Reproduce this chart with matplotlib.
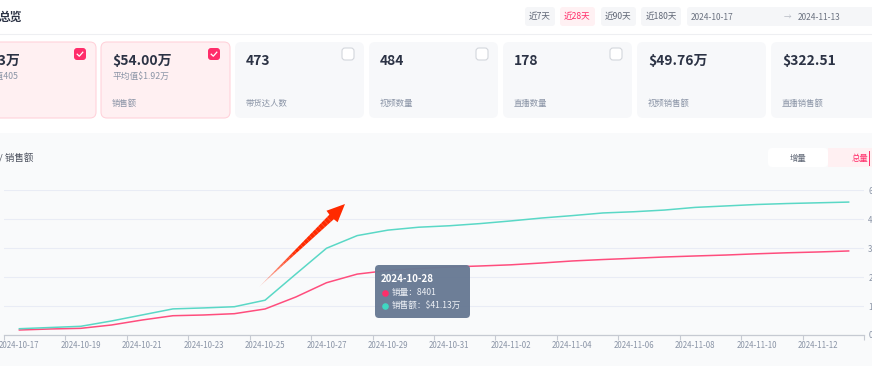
import matplotlib
matplotlib.use("Agg")
import matplotlib.pyplot as plt
import numpy as np
from matplotlib.patches import FancyBboxPatch, Polygon, Rectangle

plt.rcParams['font.family'] = ['Noto Sans CJK SC', 'DejaVu Sans']

# data
dates = ['2024-10-17', '2024-10-18', '2024-10-19', '2024-10-20', '2024-10-21', '2024-10-22',
         '2024-10-23', '2024-10-24', '2024-10-25', '2024-10-26', '2024-10-27', '2024-10-28',
         '2024-10-29', '2024-10-30', '2024-10-31', '2024-11-01', '2024-11-02', '2024-11-03',
         '2024-11-04', '2024-11-05', '2024-11-06', '2024-11-07', '2024-11-08', '2024-11-09',
         '2024-11-10', '2024-11-11', '2024-11-12', '2024-11-13']
sales_qty = [690, 830, 920, 1380, 2070, 2660, 2760, 2940, 3590, 5240, 7210, 8401,
             8900, 9170, 9380, 9520, 9680, 9930, 10210, 10410, 10580, 10760, 10900, 11030,
             11200, 11340, 11450, 11590]
sales_amt = [2.6, 3.1, 3.6, 5.8, 8.3, 10.8, 11.2, 11.7, 14.4, 25.2, 35.9, 41.13,
             43.4, 44.6, 45.2, 46.1, 47.2, 48.4, 49.4, 50.5, 51.0, 51.7, 52.8, 53.4,
             54.0, 54.4, 54.7, 55.0]
amt_ticks = [0, 12, 24, 36, 48, 60]
amt_tick_labels = ['0', '12万', '24万', '36万', '48万', '60万']

card_values = ['1.13万', '$54.00万', '473', '484', '178', '$49.76万', '$322.51']
card_subs = ['平均值405', '平均值$1.92万', '', '', '', '', '']
card_labels = ['销量', '销售额', '带货达人数', '视频数量', '直播数量', '视频销售额', '直播销售额']
card_checked = [True, True, False, False, False, None, None]
range_buttons = ['近7天', '近28天', '近90天', '近180天']

W, H = 872, 374
fig = plt.figure(figsize=(W / 100, H / 100), dpi=100)
fig.patch.set_facecolor('white')

bg = fig.add_axes([0, 0, 1, 1], zorder=0)
bg.set_xlim(0, W)
bg.set_ylim(H, 0)
bg.axis('off')

grey_txt = '#8a94a6'
dark_txt = '#2c3345'
pink = '#ff2d6a'

# header
bg.text(-1.5, 17.5, '总览', fontsize=8.5, fontweight='bold', color=dark_txt, va='center', ha='left')
bg.plot([0, W], [34, 34], color='#eeeff2', lw=0.8)

btn_x = [525, 560, 601, 641]
btn_w = [30, 35, 35, 40]
for i, lab in enumerate(range_buttons):
    fc = '#fff1f3' if i == 1 else '#f5f6f8'
    bg.add_patch(FancyBboxPatch((btn_x[i], 7), btn_w[i], 19, boxstyle='round,pad=0,rounding_size=3',
                                fc=fc, ec='none'))
    bg.text(btn_x[i] + btn_w[i] / 2, 17, lab, fontsize=6.2, color=pink if i == 1 else '#5f6675',
            ha='center', va='center')
bg.add_patch(FancyBboxPatch((687, 7), 200, 19, boxstyle='round,pad=0,rounding_size=3',
                            fc='#f5f6f8', ec='none'))
bg.text(691, 17, dates[0], fontsize=6, color='#6b7280', va='center')
bg.text(787, 17, '→', fontsize=5.5, color='#b8bcc5', va='center', ha='center')
bg.text(798, 17, dates[-1], fontsize=6, color='#6b7280', va='center')

# cards (the first one is partly off the left edge, as in the screenshot)
for i in range(len(card_values)):
    x0 = -33 + 134 * i
    sel = card_checked[i] is True
    bg.add_patch(FancyBboxPatch((x0, 42), 129, 76, boxstyle='round,pad=0,rounding_size=6',
                                fc='#fff0f2' if sel else '#f7f8fa',
                                ec='#ffd3db' if sel else 'none', lw=0.8))
    bg.text(x0 + 11, 61, card_values[i], fontsize=10, fontweight='bold', color=dark_txt, va='center')
    if card_subs[i]:
        bg.text(x0 + 11, 76, card_subs[i], fontsize=6.3, color=grey_txt, va='center')
    if x0 > 0:
        bg.text(x0 + 11, 103, card_labels[i], fontsize=6, color=grey_txt, va='center')
    if card_checked[i] is not None:
        cx, cy = x0 + 107, 48
        if sel:
            bg.add_patch(FancyBboxPatch((cx, cy), 12, 12, boxstyle='round,pad=0,rounding_size=3',
                                        fc=pink, ec='none'))
            bg.plot([cx + 3.2, cx + 5.3, cx + 8.8], [cy + 6.2, cy + 8.2, cy + 4.2], color='white', lw=0.9)
        else:
            bg.add_patch(FancyBboxPatch((cx, cy), 12, 12, boxstyle='round,pad=0,rounding_size=3',
                                        fc='white', ec='#d3d6dc', lw=0.8))

# chart panel
bg.add_patch(Rectangle((0, 133), W, 233, fc='#f9fafb', ec='none'))
bg.text(-0.5, 158, '/ 销售额', fontsize=6.8, color='#4a4f5c', va='center')
bg.add_patch(FancyBboxPatch((768, 148), 60, 19, boxstyle='round,pad=0,rounding_size=4',
                            fc='white', ec='none'))
bg.add_patch(Rectangle((828, 148), 44, 19, fc='#fff0f2', ec='none'))
bg.text(798, 158, '增量', fontsize=6, color='#5f6675', ha='center', va='center')
bg.text(860, 158, '总量', fontsize=6, color=pink, ha='center', va='center')
bg.plot([868.5, 868.5], [151, 165], color=pink, lw=0.7)

# plot area
ax = fig.add_axes([4 / W, (H - 335) / H, 860 / W, 145 / H], zorder=1)
ax.patch.set_alpha(0)
x = np.arange(len(dates))
ax.set_xlim(-0.5, len(dates) - 0.5)
ax.set_ylim(0, 20000)
ax.set_yticks(np.linspace(0, 20000, 6))
ax.set_yticklabels([])
ax.tick_params(axis='y', length=0)
ax.grid(axis='y', color='#e9ecf5', lw=0.8)
ax.set_axisbelow(True)
for s in ['top', 'left', 'right']:
    ax.spines[s].set_visible(False)
ax.spines['bottom'].set_color('#c6cad2')
ax.spines['bottom'].set_linewidth(0.9)
ax.set_xticks(x[::2])
ax.set_xticklabels(dates[::2], fontsize=5.7, color=grey_txt)
ax.set_xticks(np.arange(-0.5, len(dates), 2), minor=True)
ax.tick_params(axis='x', which='major', length=0, pad=4)
ax.tick_params(axis='x', which='minor', length=3.5, color='#c6cad2', width=0.8)
ax.plot(x, sales_qty, color='#ff4d7d', lw=1.1, zorder=3)

ax2 = ax.twinx()
ax2.set_ylim(0, 60)
ax2.set_yticks(amt_ticks)
ax2.set_yticklabels(amt_tick_labels, fontsize=5.7, color=grey_txt)
ax2.tick_params(axis='y', length=0, pad=3)
for s in ax2.spines.values():
    s.set_visible(False)
ax2.plot(x, sales_amt, color='#5ad8c6', lw=1.1, zorder=3)

# overlay: arrow and tooltip
top = fig.add_axes([0, 0, 1, 1], zorder=5)
top.set_xlim(0, W)
top.set_ylim(H, 0)
top.axis('off')

T = np.array([259.0, 287.0])
P = np.array([345.0, 204.0])
u = (P - T) / np.linalg.norm(P - T)
n = np.array([-u[1], u[0]])
base = P - u * 18
n_seg = 24
for k in range(n_seg):
    a0, a1 = k / n_seg, (k + 1) / n_seg
    p0 = T + (base - T) * a0
    p1 = T + (base - T) * a1
    w0, w1 = 3.2 * a0, 3.2 * a1
    alpha = min(1.0, 0.15 + 1.6 * a1)
    top.add_patch(Polygon([p0 + n * w0, p1 + n * w1, p1 - n * w1, p0 - n * w0],
                          closed=True, fc='#ff2a00', ec='none', alpha=alpha))
top.add_patch(Polygon([base + n * 8, P, base - n * 8, base - u * 1], closed=True,
                      fc='#ff2a00', ec='none'))

top.add_patch(FancyBboxPatch((375, 265), 95, 53, boxstyle='round,pad=0,rounding_size=4',
                             fc='#687a94', ec='none', alpha=0.97))
top.text(381, 279.5, dates[11], fontsize=7, fontweight='bold', color='white', va='center')
top.scatter([384.5], [292.5], s=14, color='#ff2d6a', zorder=6)
top.text(392, 292.5, f'销量：{sales_qty[11]}', fontsize=6.2, color='#eef1f6', va='center')
top.scatter([384.5], [305.5], s=14, color='#3fd8c2', zorder=6)
top.text(392, 305.5, f'销售额：${sales_amt[11]:.2f}万', fontsize=6.2, color='#eef1f6', va='center')

fig.savefig('out.png', dpi=100)
